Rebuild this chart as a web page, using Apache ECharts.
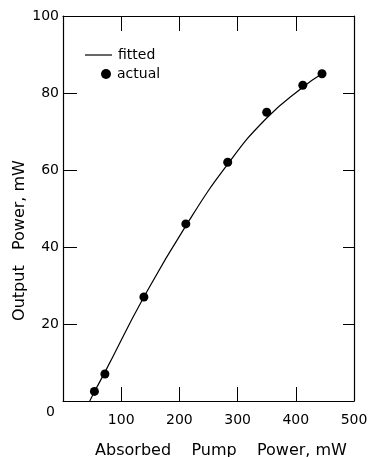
<!DOCTYPE html>
<html>
<head>
<meta charset="utf-8">
<script src="https://cdn.jsdelivr.net/npm/echarts@6/dist/echarts.min.js"></script>
<style>
html,body{margin:0;padding:0;background:#fff;}
#chart{width:371px;height:457px;}
</style>
</head>
<body>
<div id="chart"></div>
<script>
// Measured data points (Absorbed pump power, mW -> Output power, mW)
var pumpPower = [54, 72, 139, 211, 283, 350, 412, 445];
var outputPower = [2.5, 7, 27, 46, 62, 75, 82, 85];
// Fitted curve
var fitX = [46, 54, 72, 139, 211, 283, 350, 412, 445];
var fitY = [0, 2.4, 7.5, 27, 45.5, 61.5, 73.5, 81.5, 85];
var xTicks = [0, 100, 200, 300, 400, 500];
var yTicks = [0, 20, 40, 60, 80, 100];

var font = 'DejaVu Sans';
var chart = echarts.init(document.getElementById('chart'));
var axisLine = {show: true, onZero: false, lineStyle: {color: '#000', width: 1.2}};
chart.setOption({
  backgroundColor: '#fff',
  animation: false,
  grid: {left: 63, right: 17, top: 16, bottom: 56, containLabel: false, outerBoundsMode: 'none'},
  legend: [{
    id: 'lg1', data: [{name: 'fitted', icon: 'rect'}], left: 85, top: 48, padding: 0,
    itemWidth: 27, itemHeight: 1.2, itemGap: 0,
    itemStyle: {color: '#000'},
    textStyle: {fontFamily: font, fontSize: 14, color: '#000', padding: [0, 0, 0, 1]}
  }, {
    id: 'lg2', data: ['actual'], left: 101, top: 67, padding: 0,
    itemWidth: 10, itemHeight: 10, itemGap: 0,
    itemStyle: {color: '#000', opacity: 1},
    textStyle: {fontFamily: font, fontSize: 14, color: '#000', padding: [0, 0, 0, 1]}
  }],
  xAxis: [{
    type: 'value', position: 'bottom', min: xTicks[0], max: xTicks[xTicks.length - 1], interval: 100,
    axisLine: axisLine,
    axisTick: {show: true, inside: true, length: 14, lineStyle: {color: '#000', width: 1}},
    splitLine: {show: false},
    axisLabel: {fontFamily: font, fontSize: 14, color: '#000', margin: 12,
      formatter: function (v) { return v === 0 ? '' : String(v); }},
    name: 'Absorbed    Pump    Power, mW', nameLocation: 'middle', nameGap: 42, nameMoveOverlap: false,
    nameTextStyle: {fontFamily: font, fontSize: 16, color: '#000', padding: [0, 0, 0, 25]}
  }, {
    type: 'value', position: 'top', min: xTicks[0], max: xTicks[xTicks.length - 1], interval: 100,
    axisLine: axisLine,
    axisTick: {show: true, inside: true, length: 15, lineStyle: {color: '#000', width: 1}},
    splitLine: {show: false}, axisLabel: {show: false}
  }],
  yAxis: [{
    type: 'value', position: 'left', min: yTicks[0], max: yTicks[yTicks.length - 1], interval: 20,
    axisLine: axisLine,
    axisTick: {show: true, inside: true, length: 14, lineStyle: {color: '#000', width: 1}},
    splitLine: {show: false},
    axisLabel: {fontFamily: font, fontSize: 14, color: '#000', margin: 4, lineHeight: 22,
      formatter: function (v) { return v === 0 ? '\n{z|0}' : String(v); },
      rich: {z: {fontFamily: font, fontSize: 14, color: '#000', padding: [0, 4, 0, 0]}}},
    name: 'Output   Power, mW', nameLocation: 'middle', nameGap: 35, nameMoveOverlap: false,
    nameTextStyle: {fontFamily: font, fontSize: 16, color: '#000', padding: [0, 64, 0, 0]}
  }, {
    type: 'value', position: 'right', min: yTicks[0], max: yTicks[yTicks.length - 1], interval: 20,
    axisLine: axisLine,
    axisTick: {show: true, inside: true, length: 11, lineStyle: {color: '#000', width: 1}},
    splitLine: {show: false}, axisLabel: {show: false}
  }],
  series: [{
    name: 'fitted', type: 'line', smooth: true, showSymbol: false, symbol: 'none',
    lineStyle: {color: '#000', width: 1.2}, itemStyle: {color: '#000'},
    data: fitX.map(function (x, i) { return [x, fitY[i]]; })
  }, {
    name: 'actual', type: 'scatter', symbol: 'circle', symbolSize: 9,
    itemStyle: {color: '#000', opacity: 1},
    data: pumpPower.map(function (x, i) { return [x, outputPower[i]]; })
  }]
});
</script>
</body>
</html>
